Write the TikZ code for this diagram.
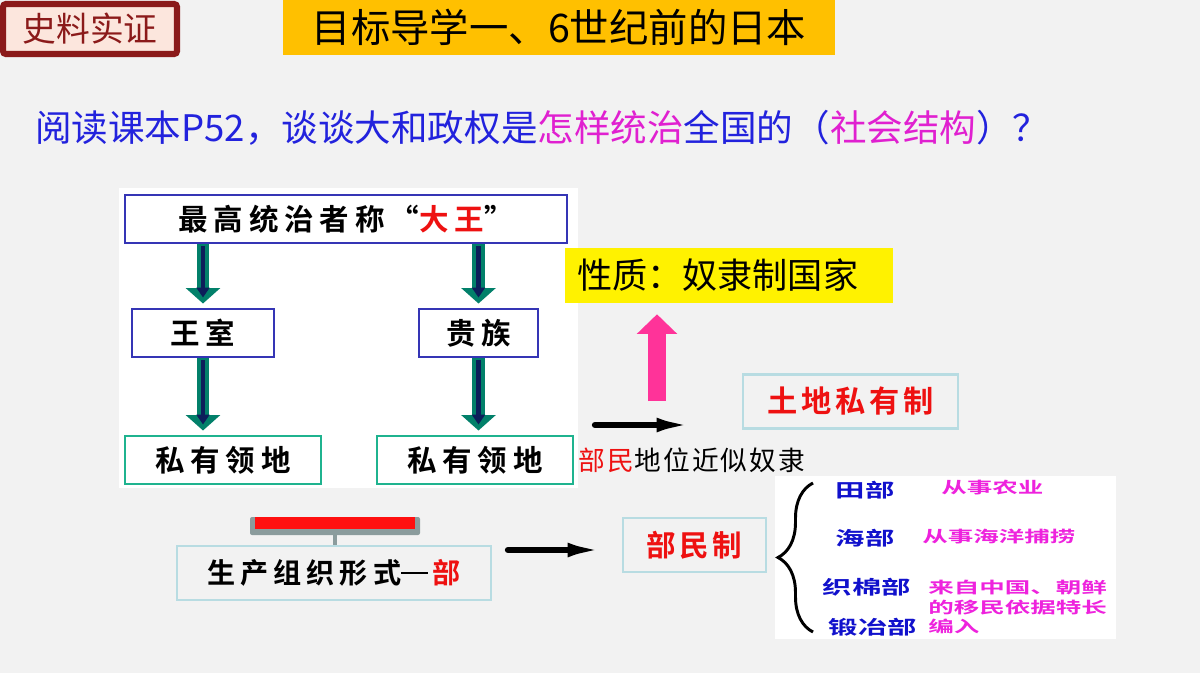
\documentclass[tikz,border=0pt]{standalone}
\usepackage{fontspec}
\setmainfont{Noto Sans CJK SC}[BoldFont={Noto Sans CJK SC Bold}]
\usepackage{xcolor}
\usetikzlibrary{positioning, arrows.meta, decorations.pathreplacing}

\definecolor{slidebg}{HTML}{F2F2F2}
\definecolor{seal}{HTML}{8B1A1A}
\definecolor{sealfill}{HTML}{FCE6DD}
\definecolor{gold}{HTML}{FFC000}
\definecolor{qblue}{HTML}{2222DD}
\definecolor{qpink}{HTML}{E020D0}
\definecolor{boxblue}{HTML}{3535B5}
\definecolor{boxteal}{HTML}{1FB38F}
\definecolor{paleblue}{HTML}{B8DCE2}
\definecolor{arrgreen}{HTML}{02806A}
\definecolor{arrnavy}{HTML}{0C1E5A}
\definecolor{hotpink}{HTML}{FF3399}
\definecolor{barred}{HTML}{FF1010}
\definecolor{bargray}{HTML}{8B9C9D}
\definecolor{listblue}{HTML}{1111CC}
\definecolor{listpink}{HTML}{EE22DD}
\definecolor{textred}{HTML}{EE1111}

\begin{document}
\begin{tikzpicture}[x=0.25mm, y=-0.25mm,
    flowbox/.style={draw=boxblue, line width=2.1pt, fill=white, minimum height=12mm,
      font=\bfseries\fontsize{21}{23}\selectfont\addfontfeature{LetterSpace=20}},
    landbox/.style={flowbox, draw=boxteal, minimum width=49mm},
    palebox/.style={draw=paleblue, line width=1.5pt, minimum height=13.5mm},
    greenarrow/.style={arrgreen, line width=9pt, -{Triangle[width=24pt, length=11pt]}, shorten >=1mm},
    navystripe/.style={arrnavy, line width=3.5pt, -{Triangle[width=9pt, length=7pt]}, shorten >=2.5mm, shorten <=0.5mm},
    blackarrow/.style={line width=4.5pt, line cap=round, -{Latex[length=28pt, width=10pt]}},
    listlabel/.style={inner sep=0pt, text=listblue, font=\bfseries\fontsize{13.5}{15}\selectfont\addfontfeature{FakeStretch=1.55}},
    listnote/.style={anchor=west, inner sep=0pt, align=left, text=listpink,
      font=\bfseries\fontsize{11.2}{13.9}\selectfont\addfontfeature{FakeStretch=1.62}}]

  \fill[slidebg] (0,0) rectangle (1200,673);
  \useasboundingbox (0,0) rectangle (1200,673);

  \node[draw=seal, line width=4.3pt, fill=sealfill, rounded corners=2pt, minimum width=43.5mm,
    minimum height=12.5mm, text=seal, font=\fontsize{24}{26}\selectfont] (seal) at (90,29) {史料实证};
  \node[fill=gold, minimum width=138mm, minimum height=13.75mm,
    font=\fontsize{28}{30}\selectfont] (title) at (559,27.5) {目标导学一、6世纪前的日本};
  \node[anchor=west, inner sep=0pt, text=qblue, font=\fontsize{26}{28}\selectfont] (question) at (35,128)
    {阅读课本P52，谈谈大和政权是\textcolor{qpink}{怎样统治}全国的（\textcolor{qpink}{社会结构}）？};

  \fill[white] (119,188) rectangle (578,488);
  \fill[white] (775,476) rectangle (1116,639);

  \node[flowbox, minimum width=110.5mm] (king) at (346,219) {最高统治者称\,“\textcolor{textred}{大王}”};
  \node[flowbox, minimum width=35.5mm] (royal) at (203,333) {王室};
  \node[flowbox, minimum width=29.75mm] (noble) at (478.5,333) {贵族};
  \node[landbox] (land1) at (223,460) {私有领地};
  \node[landbox] (land2) at (475,460) {私有领地};
  \node[right=1mm of land2, inner sep=0pt, font=\fontsize{19}{21}\selectfont\addfontfeature{LetterSpace=8}] (slaves)
    {\textcolor{textred}{部民}地位近似奴隶};

  \foreach \s/\t in {{king.south -| royal}/royal.north, {king.south -| noble}/noble.north,
      royal.south/{royal.south |- land1.north}, noble.south/{noble.south |- land2.north}} {
    \draw[greenarrow] (\s) -- (\t);
    \draw[navystripe] (\s) -- (\t);
  }

  \node[fill=yellow, text width=76mm, inner xsep=3mm, align=left, minimum height=13.75mm,
    font=\fontsize{25}{27}\selectfont] (nature) at (729,275.5) {性质：奴隶制国家};
  \node[palebox, minimum width=53.75mm, text=textred,
    font=\bfseries\fontsize{21.5}{23}\selectfont\addfontfeature{LetterSpace=12}] (private) at (850.5,401.5) {土地私有制};

  \coordinate (pk) at (657,401);
  \draw[hotpink, line width=13.5pt, -{Triangle[width=28pt, length=14pt]}, shorten >=2.75mm] (pk) -- (pk |- nature.south);
  \coordinate (a1) at (595,425);
  \draw[blackarrow, shorten >=11.5mm] (a1) -- (a1 -| private.west);

  \fill[bargray, rounded corners=0.5mm] (250,517) rectangle (420,535);
  \fill[barred] (255,517) rectangle (415,529);
  \node[palebox, minimum width=78.5mm,
    font=\bfseries\fontsize{20}{22}\selectfont\addfontfeature{LetterSpace=18}] (form) at (334,573)
    {生产组织形式\rule[0.33em]{0.95em}{0.07em}\,\textcolor{textred}{部}};
  \coordinate (stem) at (335,535);
  \draw[bargray, line width=3.5pt] (stem) -- (stem |- form.north);

  \node[palebox, minimum width=35.75mm, text=textred,
    font=\bfseries\fontsize{21}{23}\selectfont\addfontfeature{LetterSpace=12}] (bumin) at (694.5,545) {部民制};
  \coordinate (a2) at (508,550);
  \draw[blackarrow, shorten >=3.75mm] (a2) -- (a2 -| bumin.west);

  \coordinate (brb) at (813,632);
  \coordinate (brt) at (813,483);
  \draw[decorate, decoration={brace, amplitude=8.75mm}, line width=2.1pt] (brb) -- (brt);

  \node[listlabel] (tian) at (865,490) {田部};
  \node[listlabel] (hai) at (865,538) {海部};
  \node[listlabel] (zhi) at (867,587) {织棉部};
  \node[listlabel] (duan) at (873,627) {锻冶部};
  \node[listnote] (tiannote) at (941,488) {从事农业};
  \node[listnote] (hainote) at (922,537) {从事海洋捕捞};
  \node[listnote] (migrant) at (928,607) {来自中国、朝鲜\\的移民依据特长\\编入};
\end{tikzpicture}
\end{document}
